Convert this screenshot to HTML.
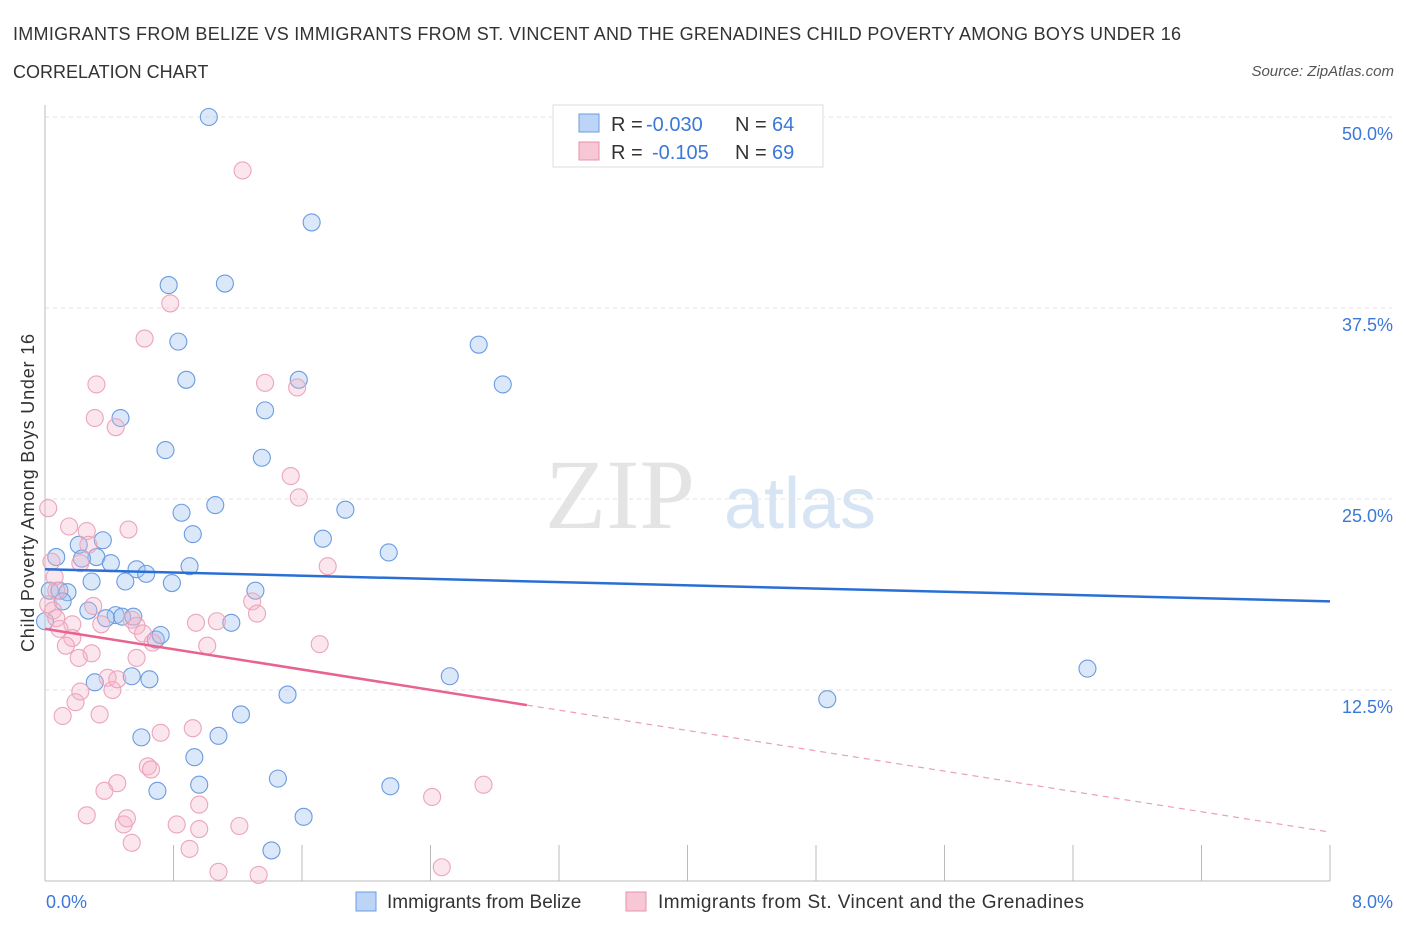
<!DOCTYPE html>
<html><head><meta charset="utf-8"><style>
body{margin:0;background:#fff;font-family:"Liberation Sans",sans-serif}
</style></head><body>
<svg id="c" width="1406" height="930" xmlns="http://www.w3.org/2000/svg" style="font-family:'Liberation Sans',sans-serif">
<text x="13" y="40" font-size="18" fill="#333" textLength="1168">IMMIGRANTS FROM BELIZE VS IMMIGRANTS FROM ST. VINCENT AND THE GRENADINES CHILD POVERTY AMONG BOYS UNDER 16</text>
<text x="13" y="78" font-size="18" fill="#333">CORRELATION CHART</text>
<text x="1394" y="76" font-size="15" fill="#555" font-style="italic" text-anchor="end">Source: ZipAtlas.com</text>
<text x="620" y="528" font-size="100" fill="#e4e4e4" font-family="Liberation Serif" text-anchor="middle">ZIP</text>
<text x="800" y="528" font-size="72" fill="#d6e4f4" text-anchor="middle">atlas</text>
<g id="grid"></g><g id="pts"></g><g id="lines"></g>
<text transform="translate(34,493) rotate(-90)" font-size="18" fill="#333" text-anchor="middle" textLength="318">Child Poverty Among Boys Under 16</text>
<text x="46" y="908" font-size="18" fill="#3b78d8">0.0%</text>
<text x="1393" y="908" font-size="18" fill="#3b78d8" text-anchor="end">8.0%</text>
<g>
<rect x="553" y="105" width="270" height="62" fill="#fff" stroke="#ddd"/>
<rect x="579" y="114" width="20" height="18" fill="#bcd4f6" stroke="#6a9be0"/>
<rect x="579" y="142" width="20" height="18" fill="#f8c7d5" stroke="#e890aa"/>
<text x="611" y="131" font-size="20" fill="#333">R =</text>
<text x="646" y="131" font-size="20" fill="#3b78d8">-0.030</text>
<text x="735" y="131" font-size="20" fill="#333">N =</text>
<text x="772" y="131" font-size="20" fill="#3b78d8">64</text>
<text x="611" y="159" font-size="20" fill="#333">R =</text>
<text x="652" y="159" font-size="20" fill="#3b78d8">-0.105</text>
<text x="735" y="159" font-size="20" fill="#333">N =</text>
<text x="772" y="159" font-size="20" fill="#3b78d8">69</text>
</g>
<g>
<rect x="356" y="892" width="20" height="19" fill="#bcd4f6" stroke="#6a9be0"/>
<text x="387" y="908" font-size="19" fill="#333">Immigrants from Belize</text>
<rect x="626" y="892" width="20" height="19" fill="#f8c7d5" stroke="#e890aa"/>
<text x="658" y="908" font-size="19" fill="#333" textLength="426">Immigrants from St. Vincent and the Grenadines</text>
</g>
</svg>
<script>
const yTicks=[12.5,25,37.5,50];
const yTickLabels=["12.5%","25.0%","37.5%","50.0%"];
const blueX=[1.02,1.66,0.77,1.12,0.83,2.70,0.88,2.85,1.58,1.37,0.47,0.75,1.35,1.06,0.85,1.87,0.92,1.73,2.14,0.36,0.21,0.32,0.23,0.41,0.57,0.63,0.90,0.79,0.50,0.29,1.31,0.07,0.03,0.09,0.14,0.11,0.27,0.44,0.38,0.48,0.55,0.69,0.72,1.16,2.52,6.49,4.87,0.31,0.65,0.54,1.51,1.22,0.60,1.08,0.93,1.45,2.15,0.70,0.96,1.61,1.41,0.0];
const blueY=[50.0,43.1,39.0,39.1,35.3,35.1,32.8,32.5,32.8,30.8,30.3,28.2,27.7,24.6,24.1,24.3,22.7,22.4,21.5,22.3,22.0,21.2,21.1,20.8,20.4,20.1,20.6,19.5,19.6,19.6,19.0,21.2,19.0,19.0,18.9,18.3,17.7,17.4,17.2,17.3,17.3,15.8,16.1,16.9,13.4,13.9,11.9,13.0,13.2,13.4,12.2,10.9,9.4,9.5,8.1,6.7,6.2,5.9,6.3,4.2,2.0,17.0];
const pinkX=[1.23,0.78,0.62,0.32,1.37,1.57,0.31,0.44,1.53,1.58,0.02,0.15,0.26,0.52,0.27,0.22,1.76,0.04,0.06,0.07,1.29,0.02,0.05,0.30,1.32,0.07,0.17,0.35,0.54,0.57,0.94,1.07,0.09,0.61,0.67,1.71,0.17,0.13,0.29,1.01,0.21,0.57,0.39,0.22,0.19,0.42,0.45,0.11,0.34,0.72,0.92,0.64,0.66,2.73,0.37,0.45,0.96,0.82,0.26,0.49,0.51,1.21,2.41,0.96,0.54,0.90,1.08,1.33,2.47];
const pinkY=[46.5,37.8,35.5,32.5,32.6,32.3,30.3,29.7,26.5,25.1,24.4,23.2,22.9,23.0,22.0,20.8,20.6,20.9,19.9,19.0,18.3,18.1,17.7,18.0,17.5,17.2,16.8,16.8,17.1,16.7,16.9,17.0,16.5,16.2,15.6,15.5,15.9,15.4,14.9,15.4,14.6,14.6,13.3,12.4,11.7,12.5,13.2,10.8,10.9,9.7,10.0,7.5,7.3,6.3,5.9,6.4,5.0,3.7,4.3,3.7,4.1,3.6,5.5,3.4,2.5,2.1,0.6,0.4,0.9];
const blueTrend=[20.4,18.3];
const pinkTrend=[16.5,3.2];
const pinkSolidEnd=3.0;
const X0=45,X1=1330,Y0=881,PX=191/12.5;
const xs=v=>X0+v/8*(X1-X0), ys=v=>Y0-v*PX;
const NS="http://www.w3.org/2000/svg";
function mk(t,a,p){const e=document.createElementNS(NS,t);for(const k in a)e.setAttribute(k,a[k]);p.appendChild(e);return e;}
const svg=document.getElementById('c'),grid=document.getElementById('grid'),pts=document.getElementById('pts'),lines=document.getElementById('lines');
yTicks.forEach((t,i)=>{
 const l=mk('line',{x1:X0,x2:1392,y1:ys(t),y2:ys(t),stroke:'#e2e2e2','stroke-dasharray':'4,4'},grid);
 
 
 const tx=mk('text',{x:1393,y:ys(t)+23,'font-size':18,fill:'#3b78d8','text-anchor':'end'},grid);
 tx.textContent=yTickLabels[i];
 
 
});
const ax=mk('line',{x1:X0,x2:X0,y1:105,y2:Y0,stroke:'#bbb'},grid);


const bx=mk('line',{x1:X0,x2:1330,y1:Y0,y2:Y0,stroke:'#bbb'},grid);


for(let i=1;i<=10;i++){
 const tk=mk('line',{x1:xs(i*0.8),x2:xs(i*0.8),y1:Y0-36,y2:Y0,stroke:'#bbb'},grid);
 
 
}
blueX.forEach((v,i)=>{
 const c=mk('circle',{cx:xs(v),cy:ys(blueY[i]),r:8.5,fill:'rgba(160,195,240,0.38)',stroke:'#6b9be0','stroke-width':1.1},pts);
 
 
});
pinkX.forEach((v,i)=>{
 const c=mk('circle',{cx:xs(v),cy:ys(pinkY[i]),r:8.5,fill:'rgba(246,180,200,0.33)',stroke:'#eba5bb','stroke-width':1.1},pts);
 
 
});
const bl=mk('line',{x1:xs(0),y1:ys(blueTrend[0]),x2:xs(8),y2:ys(blueTrend[1]),stroke:'#2a6fd6','stroke-width':2.5},lines);


const pAt=x=>pinkTrend[0]+(pinkTrend[1]-pinkTrend[0])*x/8;
const pl=mk('line',{x1:xs(0),y1:ys(pAt(0)),x2:xs(pinkSolidEnd),y2:ys(pAt(pinkSolidEnd)),stroke:'#e8638e','stroke-width':2.5},lines);


const pd=mk('line',{x1:xs(pinkSolidEnd),y1:ys(pAt(pinkSolidEnd)),x2:xs(8),y2:ys(pAt(8)),stroke:'#e8a0b6','stroke-width':1.2,'stroke-dasharray':'6,5'},lines);


</script>
</body></html>
